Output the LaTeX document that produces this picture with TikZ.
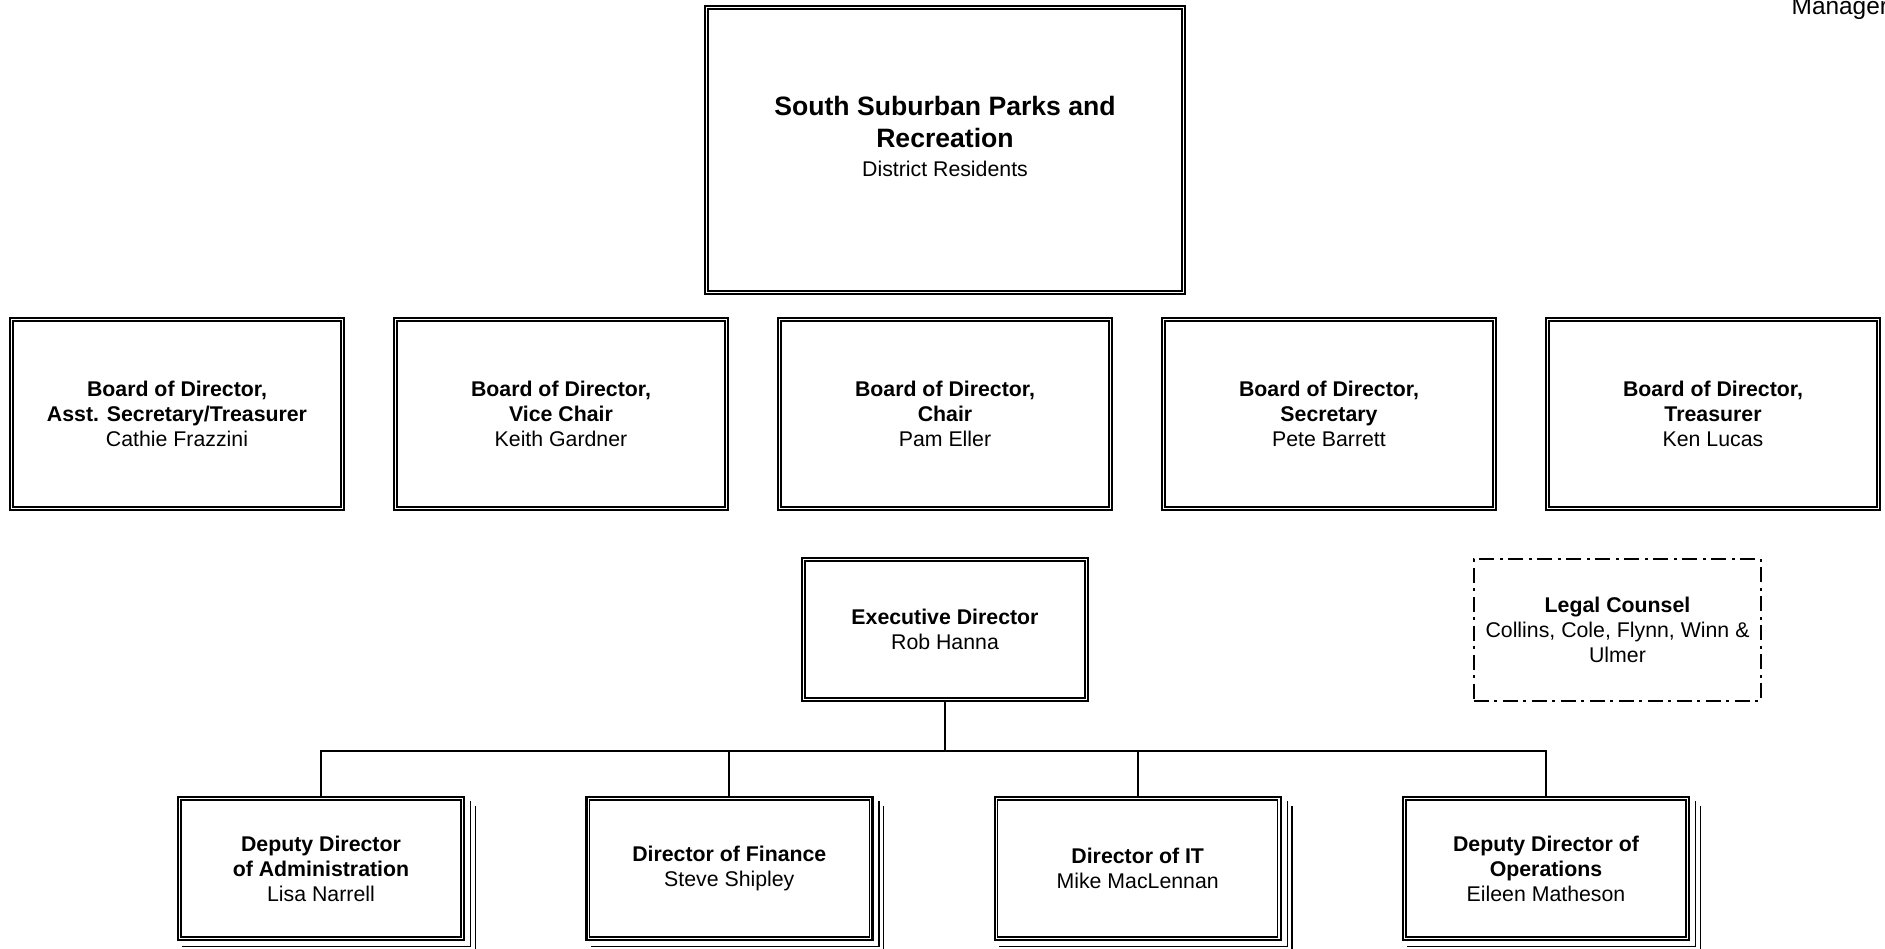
\documentclass[tikz,border=0pt]{standalone}
\usepackage{fontspec}
\setmainfont{Liberation Sans}
\usetikzlibrary{calc}
\begin{document}
\begin{tikzpicture}[x=1pt,y=1pt,
  txt/.style={font=\fontsize{21.3}{25}\selectfont, align=center},
  box/.style={txt, draw, fill=white, line width=2.4pt, rectangle, inner sep=0pt},
  topbox/.style={box, minimum width=480pt, minimum height=288pt},
  board/.style={box, minimum width=334pt, minimum height=192pt},
  mid/.style={box, minimum width=286pt, minimum height=143pt},
  legal/.style={txt, draw, line width=2pt, dash pattern=on 15pt off 5pt on 3pt off 6pt,
     minimum width=287pt, minimum height=142pt, inner sep=0pt},
  innerline/.style={line width=1.3pt},
  shadowline/.style={line width=1.4pt},
  conn/.style={line width=2pt}]
\useasboundingbox (0,0) rectangle (1885,949);
\fill[white] (0,0) rectangle (1885,949);

% top
\node[topbox] (top) at (945,799) {};
\node[txt, inner sep=0pt] (title) at (945,812.5)
  {\fontsize{26.6}{26.6}\selectfont\bfseries South Suburban Parks and\\[6.3pt]
   \fontsize{26.6}{26.6}\selectfont\bfseries Recreation\\[3.9pt]
   District Residents};

% board
\node[board] (b1) at (177,535) {\textbf{Board of Director,}\\\textbf{Asst. Secretary/Treasurer}\\Cathie Frazzini};
\node[board] (b2) at (561,535) {\textbf{Board of Director,}\\\textbf{Vice Chair}\\Keith Gardner};
\node[board] (b3) at (945,535) {\textbf{Board of Director,}\\\textbf{Chair}\\Pam Eller};
\node[board] (b4) at (1329,535) {\textbf{Board of Director,}\\\textbf{Secretary}\\Pete Barrett};
\node[board] (b5) at (1713,535) {\textbf{Board of Director,}\\\textbf{Treasurer}\\Ken Lucas};

% executive and legal
\node[mid] (exec) at (945,319.5) {\textbf{Executive Director}\\Rob Hanna};
\node[legal] (legal) at (1617.5,319) {\textbf{Legal Counsel}\\Collins, Cole, Flynn, Winn \&\\Ulmer};

% directors
\node[mid] (d1) at (321,80.5) {\textbf{Deputy Director}\\\textbf{of Administration}\\Lisa Narrell};
\node[mid] (d2) at (729.3,80.5) {\textbf{Director of Finance}\\Steve Shipley};
\node[mid] (d3) at (1137.7,80.5) {\textbf{Director of IT}\\Mike MacLennan};
\node[mid] (d4) at (1546,80.5) {\textbf{Deputy Director of}\\\textbf{Operations}\\Eileen Matheson};

% inner lines of double borders
\foreach \n in {top,b1,b2,b3,b4,b5,exec,d1,d2,d3,d4}
  \draw[innerline] ($(\n.north west)+(4.2,-4.2)$) rectangle ($(\n.south east)+(-4.2,4.2)$);

% stacked shadows
\foreach \n in {d1,d2,d3,d4}
  \foreach \o in {5.5,10}
    \draw[shadowline] ($(\n.north east)+(\o,-\o)$) -- ($(\n.south east)+(\o,-\o)$) -- ($(\n.south west)+(\o,-\o)$);

% connectors
\coordinate (bus) at (945,198.3);
\draw[conn] (exec.south) -- (bus);
\draw[conn] (d1.north) |- (bus) -| (d4.north);
\draw[conn] (d2.north) -- (d2.north |- bus);
\draw[conn] (d3.north) -- (d3.north |- bus);

% clipped text at top right
\node[anchor=base west, inner sep=0pt, font=\fontsize{24.4}{29}\selectfont] (mgr) at (1791.5,934) {Manager};
\end{tikzpicture}
\end{document}
